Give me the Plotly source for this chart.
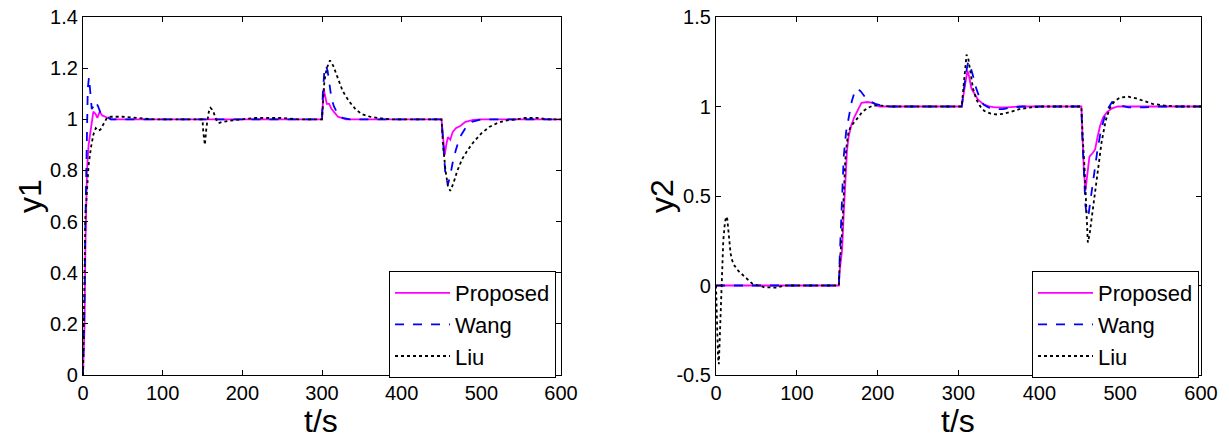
import plotly.graph_objects as go

# ---------------- data ----------------
# Left panel: y1
t1_prop = [0, 2, 3, 4, 5, 7, 10, 13, 16, 18, 21, 24, 28, 35, 300, 301, 302, 304, 306, 309, 312, 316, 320, 330,
           450, 452, 454, 456, 458, 461, 464, 468, 474, 480, 490, 500, 600]
y1_prop = [0, 0.2, 0.5, 0.66, 0.8, 0.9, 0.97, 1.03, 1.02, 1.005, 1.03, 1.015, 1.01, 1.0, 1.0, 1.08, 1.12, 1.09, 1.06, 1.06, 1.04, 1.025, 1.01, 1.0,
           1.0, 0.93, 0.86, 0.9, 0.93, 0.92, 0.95, 0.965, 0.975, 0.99, 0.998, 1.0, 1.0]

t1_wang = [0, 2, 3, 4, 5, 6, 7.5, 9, 11, 13, 16, 19, 22, 26, 30, 35, 300, 301, 303, 305, 307, 309, 312, 315, 320, 326, 335,
           450, 452, 455, 458, 461, 464, 468, 473, 480, 488, 500, 600]
y1_wang = [0, 0.3, 0.6, 0.85, 1.0, 1.12, 1.165, 1.1, 1.04, 1.05, 1.07, 1.05, 1.025, 1.02, 1.01, 1.0, 1.0, 1.1, 1.19, 1.21, 1.19, 1.14, 1.08, 1.05, 1.02, 1.005, 1.0,
           1.0, 0.9, 0.78, 0.745, 0.78, 0.83, 0.88, 0.93, 0.965, 0.99, 1.0, 1.0]

t1_liu = [0, 1.5, 3, 5, 7, 10, 13, 16, 19, 22, 26, 30, 35, 50, 70, 90, 150, 151, 153, 155, 158, 160, 163, 167, 170, 175, 185, 200, 215, 250, 270,
          300, 301, 303, 306, 310, 314, 320, 326, 334, 342, 350, 360, 370, 385,
          450, 452, 455, 458, 461, 465, 470, 476, 483, 490, 500, 510, 520, 530, 545, 555, 570, 585, 600]
y1_liu = [0, 0.3, 0.62, 0.72, 0.82, 0.89, 0.94, 0.965, 0.955, 0.96, 0.985, 1.005, 1.01, 1.01, 1.005, 1.0, 1.0, 0.95, 0.9, 0.97, 1.03, 1.045, 1.035, 1.0, 0.985, 0.99, 0.995, 1.0, 1.005, 1.005, 1.0,
          1.0, 1.06, 1.15, 1.2, 1.23, 1.21, 1.16, 1.11, 1.07, 1.04, 1.02, 1.01, 1.005, 1.0,
          1.0, 0.9, 0.8, 0.74, 0.72, 0.75, 0.8, 0.845, 0.88, 0.91, 0.945, 0.97, 0.985, 0.995, 1.0, 1.005, 1.005, 1.0, 1.0]

# Right panel: y2
t2_prop = [0, 152, 153, 156, 158, 160, 162, 164, 167, 171, 175, 180, 187, 194, 202,
           304, 306, 309, 311, 313, 316, 320, 324, 330, 338, 345, 360, 375,
           452, 453, 455, 457, 459, 462, 466, 469, 472, 475, 479, 484, 490, 497, 600]
y2_prop = [0, 0, 0.08, 0.2, 0.4, 0.6, 0.75, 0.83, 0.89, 0.94, 0.98, 1.02, 1.025, 1.02, 1.0,
           1.0, 1.06, 1.15, 1.2, 1.17, 1.1, 1.07, 1.04, 1.015, 1.0, 0.995, 0.995, 1.0,
           1.0, 0.88, 0.65, 0.53, 0.62, 0.72, 0.74, 0.76, 0.83, 0.89, 0.94, 0.97, 0.99, 1.0, 1.0]

t2_wang = [0, 152, 153, 155, 158, 161, 164, 168, 172, 175, 179, 184, 190, 197, 205, 214,
           304, 306, 309, 312, 315, 318, 322, 326, 331, 337, 345, 355, 365, 380,
           452, 453, 455, 457, 459, 461, 464, 468, 472, 476, 480, 485, 490, 495, 502, 510, 530, 545, 600]
y2_wang = [0, 0, 0.15, 0.4, 0.72, 0.86, 0.93, 1.03, 1.09, 1.1, 1.085, 1.055, 1.03, 1.015, 1.005, 1.0,
           1.0, 1.08, 1.18, 1.25, 1.22, 1.17, 1.1, 1.05, 1.01, 0.995, 0.985, 0.985, 0.995, 1.0,
           1.0, 0.85, 0.62, 0.45, 0.38, 0.4, 0.5, 0.64, 0.76, 0.86, 0.93, 0.99, 1.025, 1.02, 1.005, 0.995, 0.995, 1.0, 1.0]

t2_liu = [0, 1, 2.5, 3.5, 5, 7, 9, 11, 12.5, 14, 16, 18, 20, 23, 28, 33, 38, 45, 52, 60, 75, 85,
          152, 153, 156, 158, 160, 162, 164, 167, 171, 176, 181, 187, 194, 205, 215,
          304, 306, 308, 310, 312, 315, 318, 322, 327, 332, 340, 348, 356, 365, 375, 390, 405,
          452, 453, 454, 456, 458, 460, 462, 465, 469, 473, 477, 482, 487, 493, 500, 510, 520, 530, 540, 555, 570, 600]
y2_liu = [0, -0.2, -0.4, -0.44, -0.25, 0.05, 0.25, 0.35, 0.385, 0.37, 0.28, 0.18, 0.14, 0.11, 0.08, 0.06, 0.04, 0.01, 0.0, -0.01, -0.012, 0.0,
          0, 0.12, 0.3, 0.55, 0.7, 0.8, 0.86, 0.89, 0.91, 0.94, 0.97, 0.99, 1.005, 1.005, 1.0,
          1.0, 1.1, 1.22, 1.29, 1.27, 1.18, 1.1, 1.04, 1.0, 0.975, 0.96, 0.955, 0.96, 0.97, 0.985, 0.995, 1.0,
          1.0, 0.88, 0.8, 0.65, 0.45, 0.24, 0.28, 0.38, 0.52, 0.65, 0.8, 0.92, 0.99, 1.03, 1.05, 1.055, 1.045, 1.03, 1.015, 1.005, 1.0, 1.0]

series_names = ["Proposed", "Wang", "Liu"]
x_ticks = [0, 100, 200, 300, 400, 500, 600]
y1_ticks = [0, 0.2, 0.4, 0.6, 0.8, 1, 1.2, 1.4]
y2_ticks = [-0.5, 0, 0.5, 1, 1.5]

# ---------------- styling ----------------
W, H = 1229, 439
FONT = "Liberation Sans, Arial, sans-serif"
styles = [dict(color="#ff00ff", width=1.8, dash="solid"),
          dict(color="#0000ff", width=1.8, dash="dash"),
          dict(color="#000000", width=1.8, dash="dot")]

fig = go.Figure()
left = [(t1_prop, y1_prop), (t1_wang, y1_wang), (t1_liu, y1_liu)]
right = [(t2_prop, y2_prop), (t2_wang, y2_wang), (t2_liu, y2_liu)]
for name, (t, y), st in zip(series_names, left, styles):
    fig.add_trace(go.Scatter(x=t, y=y, mode="lines", name=name, line=st,
                             xaxis="x", yaxis="y", legend="legend"))
for name, (t, y), st in zip(series_names, right, styles):
    fig.add_trace(go.Scatter(x=t, y=y, mode="lines", name=name, line=st,
                             xaxis="x2", yaxis="y2", legend="legend2"))

def px_x(p):
    return p / W

def px_y(p):
    return 1 - p / H

ydom = [px_y(375), px_y(17)]
axis_common = dict(showline=True, linecolor="black", linewidth=1.2, mirror="allticks",
                   ticks="inside", ticklen=5, tickcolor="black", showgrid=False, zeroline=False,
                   automargin=False, ticklabeloverflow="allow",
                   tickfont=dict(family=FONT, size=20, color="black"))

legend_common = dict(xanchor="right", yanchor="top",
                     bgcolor="white", bordercolor="black", borderwidth=1,
                     font=dict(family=FONT, size=22, color="black"), tracegroupgap=0,
                     itemwidth=55)

fig.update_layout(
    width=W, height=H,
    margin=dict(l=0, r=0, t=0, b=0, autoexpand=False),
    paper_bgcolor="white", plot_bgcolor="white",
    font=dict(family=FONT, color="black"),
    xaxis=dict(domain=[px_x(83), px_x(561)], range=[0, 600], tickvals=x_ticks, anchor="y", **axis_common),
    yaxis=dict(domain=ydom, range=[0, 1.4], tickvals=y1_ticks, ticktext=[f"{v:g}" for v in y1_ticks],
               anchor="x", **axis_common),
    xaxis2=dict(domain=[px_x(716), px_x(1201)], range=[0, 600], tickvals=x_ticks, anchor="y2", **axis_common),
    yaxis2=dict(domain=ydom, range=[-0.5, 1.5], tickvals=y2_ticks, ticktext=[f"{v:g}" for v in y2_ticks],
                anchor="x2", **axis_common),
    legend=dict(x=px_x(556), y=px_y(271), **legend_common),
    legend2=dict(x=px_x(1199), y=px_y(271), **legend_common),
    showlegend=True,
)

ann_font = dict(family=FONT, size=32, color="black")
ann_common = dict(xref="paper", yref="paper", showarrow=False, xanchor="center", yanchor="middle", font=ann_font)
fig.add_annotation(text="y1", x=px_x(30), y=px_y(196), textangle=-90, **ann_common)
fig.add_annotation(text="y2", x=px_x(662), y=px_y(196), textangle=-90, **ann_common)
fig.add_annotation(text="t/s", x=px_x(321), y=px_y(421), **ann_common)
fig.add_annotation(text="t/s", x=px_x(958), y=px_y(421), **ann_common)

fig.write_html("out.html", config={"displayModeBar": False},
               post_script="document.body.style.margin='0px';")
